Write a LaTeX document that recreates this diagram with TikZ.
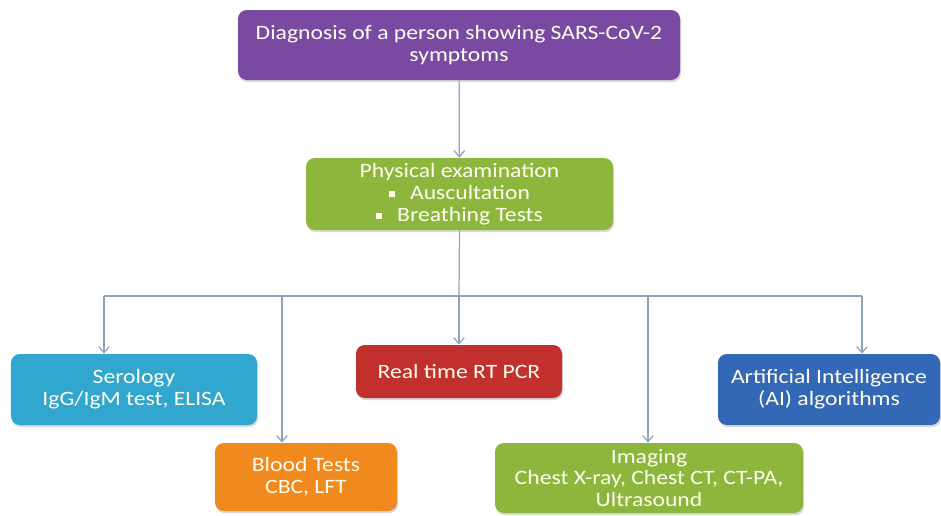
\documentclass[tikz,border=0pt]{standalone}
\usepackage{fontspec}
\setmainfont{Carlito}[FakeStretch=1.16]
\usetikzlibrary{arrows.meta,positioning,shadows}

\definecolor{cpurple}{HTML}{7A4AA3}
\definecolor{cgreen}{HTML}{8DB63C}
\definecolor{ccyan}{HTML}{31A6CF}
\definecolor{cred}{HTML}{C1302D}
\definecolor{corange}{HTML}{F0891E}
\definecolor{cblue}{HTML}{3368B6}
\definecolor{cline}{HTML}{8FA3BD}

\begin{document}
\begin{tikzpicture}[
  font=\fontsize{11.6}{12.4}\selectfont,
  box/.style={rounded corners=5pt, align=center, inner sep=3pt, text=white!94!yellow,
    drop shadow={opacity=0.3, shadow xshift=0.6pt, shadow yshift=-1.2pt}},
  conn/.style={cline, line width=0.7pt},
  arr/.style={conn, -{Straight Barb[length=3.5pt,width=6pt]}}
]
\useasboundingbox (0,0) rectangle (18.82,-10.30);

\node[box, fill=cpurple, minimum width=8.84cm, minimum height=1.40cm] (diag) at (9.18,-0.90)
  {Diagnosis of a person showing SARS-CoV-2\\symptoms};
\node[box, fill=cgreen, minimum width=6.14cm, minimum height=1.44cm] (phys) at (9.19,-3.88)
  {Physical examination\\\rule[0.25ex]{0.6ex}{0.6ex}\hspace{0.75em}Auscultation\\\rule[0.25ex]{0.6ex}{0.6ex}\hspace{0.75em}Breathing Tests};

\node[box, fill=ccyan, minimum width=4.92cm, minimum height=1.42cm] (sero) at (2.68,-7.79)
  {Serology\\IgG/IgM test, ELISA};
\node[box, fill=corange, minimum width=3.64cm, minimum height=1.36cm] (blood) at (6.12,-9.54)
  {Blood Tests\\CBC, LFT};
\node[box, fill=cred, minimum width=4.12cm, minimum height=1.06cm] (pcr) at (9.18,-7.43)
  {Real time RT PCR};
\node[box, fill=cgreen, minimum width=6.16cm, minimum height=1.40cm] (imag) at (12.98,-9.56)
  {Imaging\\Chest X-ray, Chest CT, CT-PA,\\Ultrasound};
\node[box, fill=cblue, minimum width=4.44cm, minimum height=1.42cm] (ai) at (16.58,-7.79)
  {Artificial Intelligence\\(AI) algorithms};

% branch line
\coordinate (bsero) at (2.08,-5.92);
\coordinate (bblood) at (5.64,-5.92);
\coordinate (bpcr) at (9.18,-5.92);
\coordinate (bimag) at (12.96,-5.92);
\coordinate (bai) at (17.24,-5.92);

\draw[arr] (diag) -- (phys);
\draw[conn] (phys.south) -- (bpcr);
\draw[conn] (bsero) -- (bai);
\draw[arr] (bsero) -- (bsero |- sero.north);
\draw[arr] (bblood) -- (bblood |- blood.north);
\draw[arr] (bpcr) -- (pcr);
\draw[arr] (bimag) -- (bimag |- imag.north);
\draw[arr] (bai) -- (bai |- ai.north);
\end{tikzpicture}
\end{document}
